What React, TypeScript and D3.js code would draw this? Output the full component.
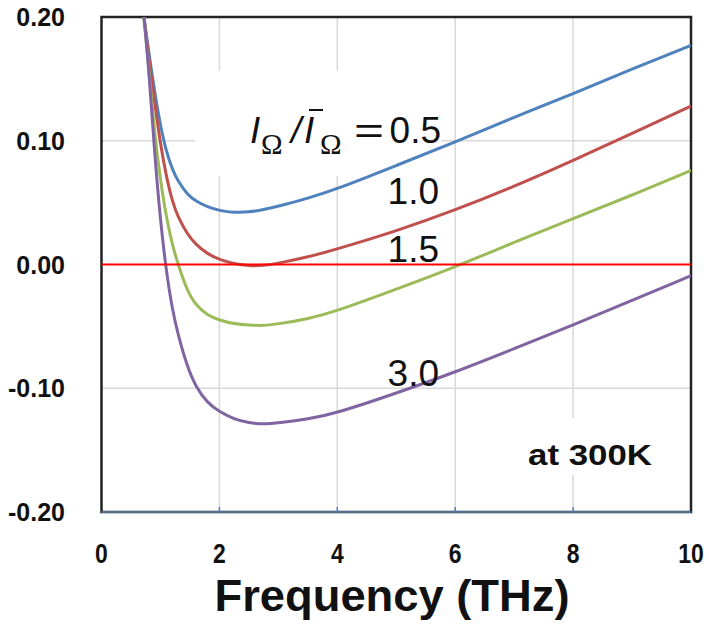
import * as d3 from "d3";

const freq = [0.72, 0.8, 0.9, 1.0, 1.1, 1.2, 1.3, 1.45, 1.6, 1.8, 2.0, 2.25, 2.5, 2.75, 3.0, 3.5, 4, 5, 6, 7, 8, 9, 10];
const ratio05 = [0.2, 0.172, 0.14, 0.112, 0.091, 0.077, 0.067, 0.057, 0.051, 0.0465, 0.0435, 0.042, 0.0423, 0.0443, 0.047, 0.0535, 0.061, 0.08, 0.099, 0.119, 0.138, 0.158, 0.177];
const ratio10 = [0.2, 0.168, 0.131, 0.097, 0.071, 0.051, 0.038, 0.025, 0.016, 0.0085, 0.004, 0.0005, -0.0012, -0.001, 0.001, 0.006, 0.0125, 0.027, 0.044, 0.063, 0.084, 0.106, 0.128];
const ratio15 = [0.2, 0.16, 0.106, 0.068, 0.038, 0.016, 0.0, -0.021, -0.033, -0.041, -0.045, -0.048, -0.049, -0.0495, -0.048, -0.044, -0.0375, -0.02, -0.002, 0.018, 0.037, 0.056, 0.076];
const ratio30 = [0.2, 0.16, 0.09, 0.035, -0.006, -0.036, -0.057, -0.082, -0.099, -0.112, -0.119, -0.125, -0.128, -0.129, -0.128, -0.125, -0.12, -0.104, -0.087, -0.068, -0.049, -0.029, -0.009];

const series = [
  { name: "0.5", values: ratio05, color: "#4F81BD" },
  { name: "1.0", values: ratio10, color: "#C0504D" },
  { name: "1.5", values: ratio15, color: "#9BBB59" },
  { name: "3.0", values: ratio30, color: "#8064A2" },
];

const xTicks = [0, 2, 4, 6, 8, 10];
const yTicks = [0.2, 0.1, 0, -0.1, -0.2];

export default function App() {
  const w = 709;
  const h = 624;
  const left = 101.5, right = 691, top = 17, bottom = 512;

  const x = d3.scaleLinear().domain([0, 10]).range([left, right]);
  const y = d3.scaleLinear().domain([-0.2, 0.2]).range([bottom, top]);

  const line = d3
    .line<number>()
    .x((v, i) => x(freq[i]))
    .y((v) => y(v))
    .curve(d3.curveBasis);

  const sans = "'Liberation Sans', Arial, sans-serif";
  const fmt = (t: number) => d3.format(".2f")(t).replace("\u2212", "-");

  return (
    <svg width={w} height={h} style={{ position: "absolute", left: 0, top: 0 }} fontFamily={sans}>
      <rect width={w} height={h} fill="#fff" />
      {/* grid */}
      {xTicks.slice(1, -1).map((t) => (
        <line key={"gx" + t} x1={x(t)} x2={x(t)} y1={top} y2={bottom} stroke="#d9d9d9" strokeWidth={1.5} />
      ))}
      {[0.1, -0.1].map((t) => (
        <line key={"gy" + t} x1={left} x2={right} y1={y(t)} y2={y(t)} stroke="#d9d9d9" strokeWidth={1.5} />
      ))}
      {/* text boxes hiding grid */}
      <rect x={195} y={71} width={246} height={105} fill="#fff" />
      <rect x={515} y={418} width={150} height={57} fill="#fff" />

      {/* frame */}
      <rect x={left} y={top} width={right - left} height={bottom - top} fill="none" stroke="#222" strokeWidth={2.5} />
      <line x1={left} x2={right} y1={bottom} y2={bottom} stroke="#4F6F94" strokeWidth={2} />
      {xTicks.slice(1, -1).map((t) => (
        <line key={"tx" + t} x1={x(t)} x2={x(t)} y1={bottom} y2={bottom - 5} stroke="#4F81BD" strokeWidth={1.5} />
      ))}

      <defs>
        <clipPath id="plot">
          <rect x={left} y={top} width={right - left} height={bottom - top} />
        </clipPath>
      </defs>
      <g clipPath="url(#plot)">
        {series.map((s) => (
          <path key={s.name} d={line(s.values) || ""} fill="none" stroke={s.color} strokeWidth={3} />
        ))}
      </g>
      <line x1={left} x2={right} y1={y(0)} y2={y(0)} stroke="#FF0000" strokeWidth={2} />

      {/* y tick labels */}
      {yTicks.map((t) => (
        <text key={"ly" + t} x={65} y={y(t) + 9} textAnchor="end" fontSize={25} fontWeight="bold" fill="#111">
          {fmt(t)}
        </text>
      ))}
      {/* x tick labels */}
      {xTicks.map((t) => (
        <text key={"lx" + t} transform={`translate(${x(t)},563) scale(0.82,1)`} textAnchor="middle" fontSize={28}
          fontWeight="bold" fill="#111">
          {t}
        </text>
      ))}
      <text x={392} y={611} textAnchor="middle" fontSize={44} fontWeight="bold" fill="#111"
        textLength={355} lengthAdjust="spacingAndGlyphs">
        Frequency (THz)
      </text>

      {/* ratio label */}
      <text x={250} y={143} fontSize={37} fontStyle="italic" fill="#111">I</text>
      <text x={261} y={154} fontSize={29} fontFamily="'Liberation Serif', serif" fill="#111">Ω</text>
      <text x={291} y={143} fontSize={37} fontStyle="italic" fill="#111">/</text>
      <text x={304} y={143} fontSize={37} fontStyle="italic" fill="#111">I</text>
      <line x1={309} x2={323} y1={110} y2={110} stroke="#111" strokeWidth={2} />
      <text x={320} y={154} fontSize={29} fontFamily="'Liberation Serif', serif" fill="#111">Ω</text>
      <text x={354} y={143} fontSize={37} fill="#111" textLength={30} lengthAdjust="spacingAndGlyphs">=</text>
      <text x={441} y={143} textAnchor="end" fontSize={37} fill="#111">0.5</text>
      <text x={439} y={204} textAnchor="end" fontSize={37} fill="#111">1.0</text>
      <text x={439} y={262} textAnchor="end" fontSize={37} fill="#111">1.5</text>
      <text x={439} y={386} textAnchor="end" fontSize={37} fill="#111">3.0</text>

      <text x={528} y={465} fontSize={29} fontWeight="bold" fill="#111" textLength={124} lengthAdjust="spacingAndGlyphs">
        at 300K
      </text>
    </svg>
  );
}
